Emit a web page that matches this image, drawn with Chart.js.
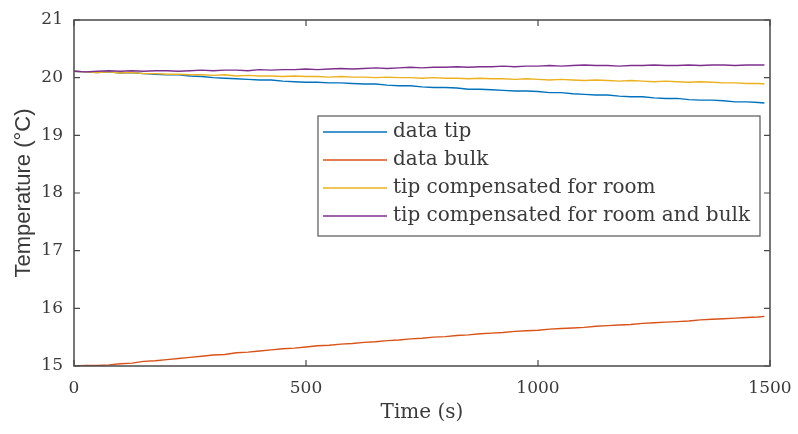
<!DOCTYPE html>
<html>
<head>
<meta charset="utf-8">
<script src="https://cdn.jsdelivr.net/npm/chart.js@4/dist/chart.umd.min.js"></script>
<style>
  html, body { margin: 0; padding: 0; background: #ffffff; }
  #wrap { width: 798px; height: 434px; }
</style>
</head>
<body>
<div id="wrap"><canvas id="c" width="798" height="434"></canvas></div>
<script>
// ---- data ----
const times = [0,25,50,75,100,125,150,175,200,225,250,275,300,325,350,375,400,425,450,475,
  500,525,550,575,600,625,650,675,700,725,750,775,800,825,850,875,900,925,950,975,
  1000,1025,1050,1075,1100,1125,1150,1175,1200,1225,1250,1275,1300,1325,1350,1375,1400,1425,1450,1475,1488];

const dataTip = [20.11,20.10,20.09,20.10,20.08,20.09,20.07,20.06,20.05,20.05,20.03,20.02,20.00,19.99,19.98,19.97,19.96,19.96,19.94,19.93,
  19.92,19.92,19.91,19.91,19.90,19.89,19.89,19.87,19.86,19.86,19.84,19.83,19.83,19.82,19.80,19.80,19.79,19.78,19.77,19.77,
  19.76,19.74,19.74,19.72,19.71,19.70,19.70,19.68,19.67,19.67,19.65,19.64,19.64,19.62,19.61,19.61,19.60,19.58,19.58,19.57,19.56];

const dataBulk = [15.00,15.01,15.01,15.02,15.04,15.05,15.08,15.09,15.11,15.13,15.15,15.17,15.19,15.20,15.23,15.24,15.26,15.28,15.30,15.31,
  15.33,15.35,15.36,15.38,15.39,15.41,15.42,15.44,15.45,15.47,15.48,15.50,15.51,15.53,15.54,15.56,15.57,15.58,15.60,15.61,
  15.62,15.64,15.65,15.66,15.67,15.69,15.70,15.71,15.72,15.74,15.75,15.76,15.77,15.78,15.80,15.81,15.82,15.83,15.84,15.85,15.86];

const tipRoom = [20.11,20.10,20.09,20.10,20.08,20.09,20.07,20.07,20.06,20.06,20.05,20.05,20.04,20.05,20.03,20.04,20.03,20.03,20.02,20.03,
  20.02,20.02,20.01,20.02,20.01,20.01,20.00,20.01,20.00,20.00,19.99,20.00,19.99,19.99,19.98,19.99,19.98,19.98,19.97,19.98,
  19.97,19.96,19.97,19.96,19.95,19.96,19.95,19.94,19.95,19.94,19.93,19.94,19.93,19.92,19.93,19.92,19.91,19.91,19.90,19.90,19.89];

const tipRoomBulk = [20.11,20.10,20.11,20.12,20.11,20.12,20.11,20.12,20.12,20.11,20.12,20.13,20.12,20.13,20.13,20.12,20.14,20.13,20.14,20.14,
  20.15,20.14,20.15,20.16,20.15,20.16,20.17,20.16,20.17,20.18,20.17,20.18,20.18,20.19,20.18,20.19,20.19,20.20,20.19,20.20,
  20.20,20.21,20.20,20.21,20.22,20.21,20.21,20.20,20.21,20.21,20.22,20.21,20.21,20.22,20.21,20.22,20.22,20.21,20.22,20.22,20.22];

const seriesLabels = ['data tip', 'data bulk', 'tip compensated for room', 'tip compensated for room and bulk'];
const seriesColors = ['#0072BD', '#D95319', '#EDB120', '#7E2F8E'];
const xTicks = [0, 500, 1000, 1500];
const yTicks = [15, 16, 17, 18, 19, 20, 21];
const xTitle = 'Time (s)';
const yTitle = 'Temperature (°C)';

// ---- build chart ----
const allSeries = [dataTip, dataBulk, tipRoom, tipRoomBulk];
const datasets = allSeries.map((s, k) => ({
  label: seriesLabels[k],
  data: s.map((v, i) => ({ x: times[i], y: v })),
  borderColor: seriesColors[k],
  borderWidth: 1.4,
  pointRadius: 0,
  tension: 0,
  fill: false,
  order: 4 - k
}));

const AXIS_COLOR = '#4a4a4a';
const TEXT_COLOR = '#3a3a3a';

const boxPlugin = {
  id: 'matlabBox',
  afterDraw(chart) {
    const ctx = chart.ctx;
    const a = chart.chartArea;
    const xs = chart.scales.x, ys = chart.scales.y;
    ctx.save();
    ctx.strokeStyle = AXIS_COLOR;
    ctx.lineWidth = 1.5;
    ctx.strokeRect(a.left, a.top, a.right - a.left, a.bottom - a.top);
    ctx.lineWidth = 1.2;
    const tl = 6;
    ctx.beginPath();
    xTicks.forEach(t => {
      const px = xs.getPixelForValue(t);
      ctx.moveTo(px, a.bottom); ctx.lineTo(px, a.bottom - tl);
      ctx.moveTo(px, a.top); ctx.lineTo(px, a.top + tl);
    });
    yTicks.forEach(t => {
      const py = ys.getPixelForValue(t);
      ctx.moveTo(a.left, py); ctx.lineTo(a.left + tl, py);
      ctx.moveTo(a.right, py); ctx.lineTo(a.right - tl, py);
    });
    ctx.stroke();

    // legend box (inside axes)
    const bx = 318, by = 116, bw = 442, bh = 120;
    ctx.fillStyle = '#ffffff';
    ctx.fillRect(bx, by, bw, bh);
    ctx.strokeStyle = '#555555';
    ctx.lineWidth = 1.2;
    ctx.strokeRect(bx, by, bw, bh);
    ctx.font = '20px "DejaVu Serif"';
    ctx.textBaseline = 'middle';
    ctx.textAlign = 'left';
    const rows = [132, 160, 188, 216];
    chart.data.datasets.forEach((ds, k) => {
      const y = rows[k];
      ctx.strokeStyle = ds.borderColor;
      ctx.lineWidth = 1.5;
      ctx.beginPath();
      ctx.moveTo(323, y); ctx.lineTo(387, y);
      ctx.stroke();
      ctx.fillStyle = TEXT_COLOR;
      ctx.fillText(ds.label, 393, y);
    });
    ctx.restore();
  }
};

new Chart(document.getElementById('c'), {
  type: 'line',
  data: { datasets },
  options: {
    responsive: false,
    animation: false,
    layout: { padding: { left: 0, right: 28, top: 20, bottom: 0 } },
    plugins: { legend: { display: false }, tooltip: { enabled: false } },
    scales: {
      x: {
        type: 'linear',
        min: 0, max: 1500,
        afterBuildTicks(s) { s.ticks = xTicks.map(v => ({ value: v })); },
        afterFit(s) { s.height = 68; s.paddingRight = 0; s.paddingLeft = 0; },
        grid: { display: false, drawTicks: false },
        border: { display: false },
        ticks: { color: TEXT_COLOR, font: { family: 'DejaVu Serif', size: 17 }, padding: 12, maxRotation: 0,
                 callback: v => String(v) },
        title: { display: true, text: xTitle, color: TEXT_COLOR, font: { family: 'DejaVu Serif', size: 20 }, padding: { top: 0, bottom: 9 } }
      },
      y: {
        type: 'linear',
        min: 15, max: 21,
        afterBuildTicks(s) { s.ticks = yTicks.map(v => ({ value: v })); },
        afterFit(s) { s.width = 74; s.paddingTop = 0; s.paddingBottom = 0; },
        grid: { display: false, drawTicks: false },
        border: { display: false },
        ticks: { color: TEXT_COLOR, font: { family: 'DejaVu Serif', size: 17 }, padding: 11,
                 callback: v => String(v) },
        title: { display: true, text: yTitle, color: TEXT_COLOR, font: { family: 'Liberation Sans', size: 22 }, padding: { top: 11, bottom: 0 } }
      }
    }
  },
  plugins: [boxPlugin]
});
</script>
</body>
</html>
